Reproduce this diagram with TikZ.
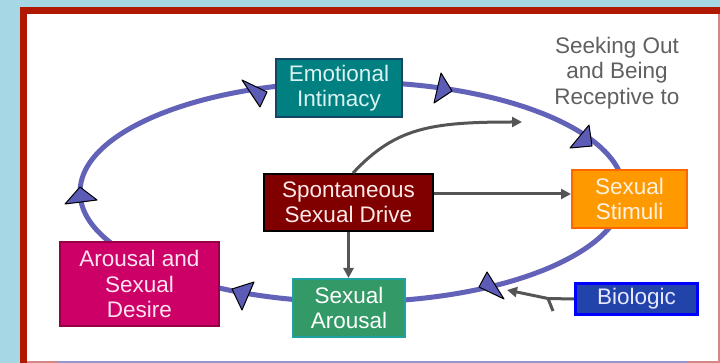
\documentclass[tikz,border=0pt]{standalone}
\usepackage{fontspec}
\setmainfont{Liberation Sans}
\usetikzlibrary{arrows.meta}
\definecolor{bgblue}{RGB}{166,215,228}
\definecolor{framered}{RGB}{176,24,0}
\definecolor{framepink}{RGB}{214,134,134}
\definecolor{framelav}{RGB}{150,150,205}
\definecolor{cyclecol}{RGB}{98,98,184}
\definecolor{headcol}{RGB}{92,92,182}
\definecolor{grayarrow}{RGB}{85,85,85}
\definecolor{seekgray}{RGB}{96,96,96}
\definecolor{tealfill}{RGB}{0,128,128}
\definecolor{tealdraw}{RGB}{20,70,100}
\definecolor{tealtext}{RGB}{220,242,242}
\definecolor{drivefill}{RGB}{128,0,0}
\definecolor{drivetext}{RGB}{255,232,232}
\definecolor{stimfill}{RGB}{255,153,0}
\definecolor{stimdraw}{RGB}{255,102,0}
\definecolor{stimtext}{RGB}{255,242,225}
\definecolor{biofill}{RGB}{34,68,170}
\definecolor{biodraw}{RGB}{0,0,255}
\definecolor{biotext}{RGB}{232,232,255}
\definecolor{arofill}{RGB}{51,153,102}
\definecolor{arodraw}{RGB}{32,160,160}
\definecolor{desfill}{RGB}{204,0,102}
\definecolor{desdraw}{RGB}{150,0,70}
\definecolor{destext}{RGB}{255,228,240}
\begin{document}
\begin{tikzpicture}[x=1pt,y=-1pt,
  box/.style={rectangle,inner sep=0pt,align=center,line width=2pt,
    font=\fontsize{22.5}{25.5}\selectfont},
  cycle/.style={draw=cyclecol,line width=5pt},
  head/.style={fill=headcol,draw=black,line width=1pt,line join=round},
  grayline/.style={draw=grayarrow,line width=3pt},
  grayarr/.style={grayline,-{Triangle[length=10pt,width=10pt]}}]
\useasboundingbox (0,0) rectangle (720,363);
% background and frame
\fill[bgblue] (0,0) rectangle (720,363);
\fill[framered] (20,7) rectangle (720,14);
\fill[framered] (20,7) rectangle (27,363);
\fill[white] (27,14) rectangle (718,363);
\draw[framepink,line width=1.5pt] (719,14) -- (719,363);
\draw[framepink,line width=1.5pt] (27,362.2) -- (718,362.2);
\draw[framelav,line width=1.5pt] (57,362.2) -- (687,362.2);
% cycle
\draw[cycle] (352,192) ellipse [x radius=272pt, y radius=110pt];
% nodes
\node[box,fill=tealfill,draw=tealdraw,text=tealtext,minimum width=126pt,minimum height=58pt] (emo) at (339,88) {Emotional\\Intimacy};
\node[box,fill=drivefill,draw=black,text=drivetext,minimum width=169pt,minimum height=57pt] (sp) at (348.5,202.5) {Spontaneous\\Sexual Drive};
\node[box,fill=stimfill,draw=stimdraw,text=stimtext,minimum width=115pt,minimum height=58pt] (st) at (629.5,199) {Sexual\\Stimuli};
\node[box,fill=biofill,draw=biodraw,line width=3pt,text=biotext,minimum width=122pt,minimum height=31pt] (bi) at (636.5,299) {Biologic};
\node[box,fill=arofill,draw=arodraw,text=white,minimum width=112pt,minimum height=58pt] (ar) at (349,308) {Sexual\\Arousal};
\node[box,fill=desfill,draw=desdraw,text=destext,minimum width=159pt,minimum height=84pt] (de) at (139.5,284) {Arousal and\\Sexual\\Desire};
\node[box,text=seekgray,line width=0pt] (seek) at (617,73) {Seeking Out\\and Being\\Receptive to};
% cycle arrowheads
\draw[head] (242,80) -- (267,92) -- (260,107) -- cycle;
\draw[head] (441,73) -- (452,91) -- (434,103) -- cycle;
\draw[head] (589,125) -- (592,146) -- (570,148) -- cycle;
\draw[head] (487,272) -- (479,287) -- (504,299) -- cycle;
\draw[head] (254,282) -- (232,289) -- (242,310) -- cycle;
\draw[head] (65,204) -- (80,187) -- (97,200) -- cycle;
% gray connectors
\coordinate (rec) at (522,122);
\draw[grayarr] (sp.north) ++(4.5,0) .. controls (395,128) and (430,122) .. (rec);
\draw[grayarr] ([yshift=8.5pt]sp.east) -- ([yshift=5pt]st.west);
\draw[grayarr] (sp.south) -- (sp.south |- ar.north);
\coordinate (bend) at (548,298.5);
\coordinate (bioend) at (507,290);
\draw[grayarr] (bi.west) -- (bend) -- (bioend);
\draw[grayline] (bend) -- (553,311);
\end{tikzpicture}
\end{document}
